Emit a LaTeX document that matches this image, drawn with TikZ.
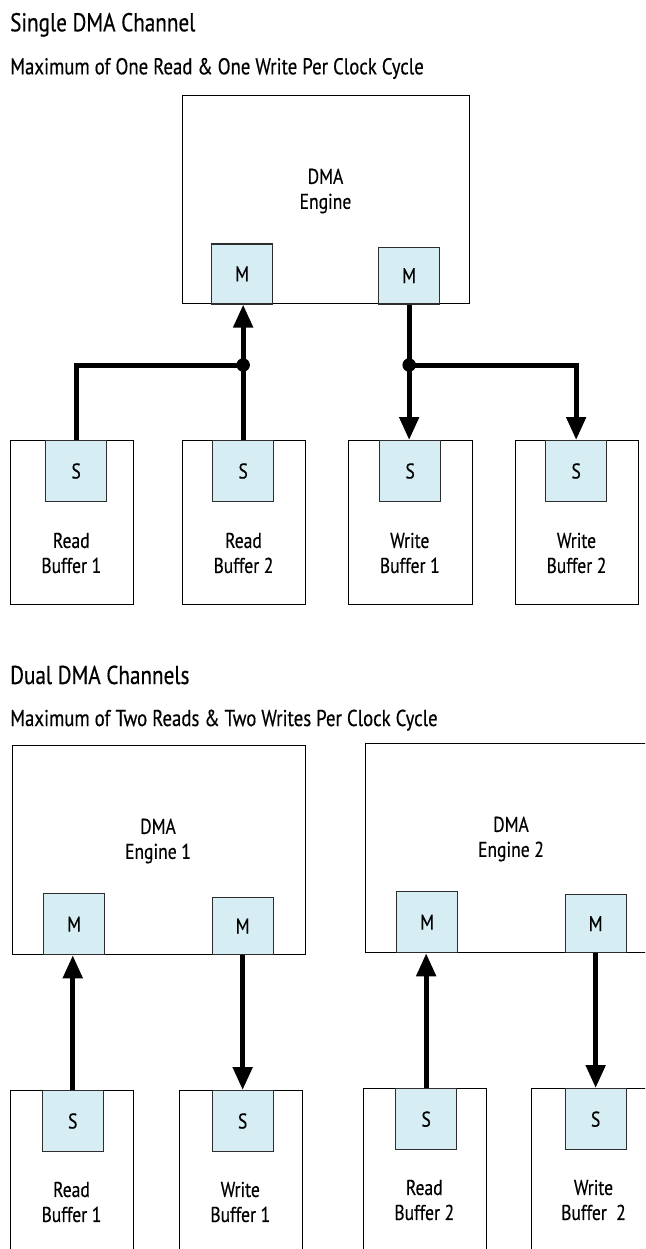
\documentclass[tikz,border=0pt]{standalone}
\usepackage{fontspec}
\setmainfont{PT Sans}[FakeStretch=0.82,FakeBold=0.4]
\usetikzlibrary{arrows.meta,calc}
\definecolor{portblue}{RGB}{214,237,244}
\definecolor{portline}{RGB}{45,45,45}
\newcommand\lblfont{\fontsize{21.4}{25}\selectfont}
\newcommand\ttlfont{\fontsize{25.8}{30}\selectfont}
\newcommand\subtfont{\fontsize{22.9}{27}\selectfont}
\begin{document}
\begin{tikzpicture}[x=1pt,y=-1pt,
  box/.style={draw=black,line width=1.4pt,fill=white,inner sep=0pt,anchor=north west},
  port/.style={draw=portline,line width=1.3pt,fill=portblue,inner sep=0pt,anchor=north west,minimum width=61pt,font=\lblfont},
  lbl/.style={align=center,inner sep=0pt,font=\lblfont},
  ttl/.style={anchor=base west,inner sep=0pt,font=\ttlfont},
  subt/.style={anchor=base west,inner sep=0pt,font=\subtfont},
  wire/.style={line width=5pt},
  arr/.style={wire,-{Triangle[width=19pt,length=23pt]}},
  jdot/.style={circle,fill=black,inner sep=0pt,minimum size=13.5pt}]
\useasboundingbox (0,0) rectangle (645,1249);
\clip (0,0) rectangle (645,1249);

% ---------- Single DMA channel ----------
\node[ttl] (t1) at (10,31.3) {Single DMA Channel};
\node[subt] (s1) at (10,74.3) {Maximum of One Read \& One Write Per Clock Cycle};
\node[box,minimum width=287pt,minimum height=208pt] (eng) at (182,95) {};
\node[lbl] (engl) at (325.5,191) {DMA\\Engine};
\node[port,minimum height=60pt] (m1) at (211,243.3) {M};
\node[port,minimum height=56.7pt] (m2) at (378,246.7) {M};

\node[box,minimum width=123.5pt,minimum height=164pt] (rb1) at (9.5,440) {};
\node[port,minimum height=60.7pt] (rs1) at (45,440) {S};
\node[lbl] (rb1l) at (71.3,553) {Read\\Buffer 1};

\node[box,minimum width=123pt,minimum height=164pt] (rb2) at (182,440) {};
\node[port,minimum height=60.7pt] (rs2) at (212,440) {S};
\node[lbl] (rb2l) at (243.5,553) {Read\\Buffer 2};

\node[box,minimum width=123.6pt,minimum height=164pt] (wb1) at (348,440) {};
\node[port,minimum height=60.7pt] (ws1) at (379,440) {S};
\node[lbl] (wb1l) at (409.8,553) {Write\\Buffer 1};

\node[box,minimum width=123pt,minimum height=164pt] (wb2) at (515,440) {};
\node[port,minimum height=60.7pt] (ws2) at (545,440) {S};
\node[lbl] (wb2l) at (576.5,553) {Write\\Buffer 2};

\coordinate (c1) at (rs1.north |- 0,365);
\coordinate (j1) at (rs2.north |- 0,365);
\coordinate (j2) at (m2.south |- 0,365);
\coordinate (c4) at (ws2.north |- 0,365);
\draw[wire] (rs1.north) -- (c1) -- (j1);
\draw[arr] (rs2.north) -- (rs2.north |- m1.south);
\draw[arr] (m2.south) -- (m2.south |- ws1.north);
\draw[arr] (j2) -- (c4) -- (ws2.north);
\node[jdot] (d1) at (j1) {};
\node[jdot] (d2) at (j2) {};

% ---------- Dual DMA channels ----------
\node[ttl] (t2) at (10,684) {Dual DMA Channels};
\node[subt] (s2) at (10,726) {Maximum of Two Reads \& Two Writes Per Clock Cycle};

\node[box,minimum width=293pt,minimum height=209pt] (e1) at (11.5,745) {};
\node[lbl] (e1l) at (158,841) {DMA\\Engine 1};
\node[port,minimum height=61pt] (e1m1) at (43,893) {M};
\node[port,minimum height=57.3pt] (e1m2) at (211.5,896.7) {M};

\node[box,minimum width=293pt,minimum height=209pt] (e2) at (364.6,743) {};
\node[lbl] (e2l) at (511,839) {DMA\\Engine 2};
\node[port,minimum height=61pt] (e2m1) at (396,891) {M};
\node[port,minimum height=58pt] (e2m2) at (564.5,894) {M};

\node[box,minimum width=123pt,minimum height=164pt] (brb1) at (10,1090) {};
\node[port,minimum height=60.7pt] (brs1) at (41.6,1090) {S};
\node[lbl] (brb1l) at (71.5,1202) {Read\\Buffer 1};

\node[box,minimum width=123.4pt,minimum height=164pt] (bwb1) at (178.6,1090) {};
\node[port,minimum height=60.7pt] (bws1) at (211.5,1090) {S};
\node[lbl] (bwb1l) at (240.3,1202) {Write\\Buffer 1};

\node[box,minimum width=123.4pt,minimum height=164pt] (brb2) at (362.6,1088) {};
\node[port,minimum height=61pt] (brs2) at (395,1088) {S};
\node[lbl] (brb2l) at (424.3,1200) {Read\\Buffer 2};

\node[box,minimum width=123pt,minimum height=164pt] (bwb2) at (531,1088) {};
\node[port,minimum height=61pt] (bws2) at (564.5,1088) {S};
\node[lbl] (bwb2l) at (593.5,1200) {Write\\Buffer~ 2};

\draw[arr] (brs1.north) -- (brs1.north |- e1m1.south);
\draw[arr] (e1m2.south) -- (e1m2.south |- bws1.north);
\draw[arr] (brs2.north) -- (brs2.north |- e2m1.south);
\draw[arr] (e2m2.south) -- (e2m2.south |- bws2.north);
\end{tikzpicture}
\end{document}
